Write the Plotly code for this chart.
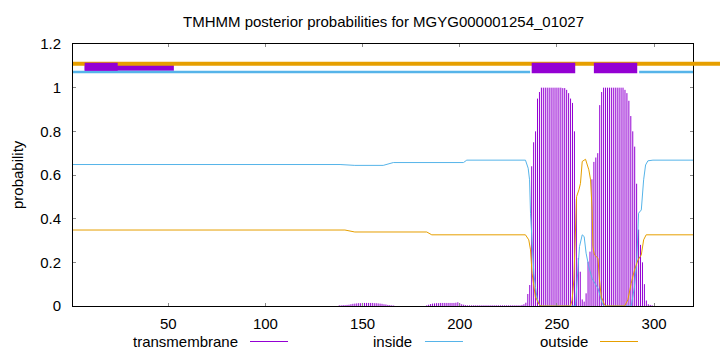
import plotly.graph_objects as go

# ---------------- data ----------------
title_text = "TMHMM posterior probabilities for MGYG000001254_01027"
y_label = "probability"
seq_range = [1, 320]
x_ticks = [50, 100, 150, 200, 250, 300]
y_ticks = [0, 0.2, 0.4, 0.6, 0.8, 1, 1.2]
legend_names = ["transmembrane", "inside", "outside"]

# posterior probability of "inside" (breakpoints along the sequence)
inside_x = [1, 138.4, 146, 160.6, 165.8, 201.9, 203.6, 233.8, 235.2, 235.9, 236.4, 237.2,
            238.1, 238.9, 239.8, 240.7, 241.6, 259.5, 260.4, 261.6, 263.0, 264.0, 265.0,
            266.4, 268.1, 271.1, 272.8, 273.6, 274.5, 288.2, 289.9, 291.1, 292.0, 293.4,
            294.6, 295.6, 296.8, 299.4, 320]
inside_y = [0.648, 0.648, 0.644, 0.644, 0.657, 0.657, 0.668, 0.668, 0.631, 0.578, 0.425, 0.272,
            0.150, 0.089, 0.035, 0.012, 0.0, 0.0, 0.119, 0.272, 0.326, 0.318, 0.242,
            0.180, 0.125, 0.081, 0.028, 0.005, 0.0, 0.0, 0.089, 0.211, 0.425, 0.440,
            0.578, 0.646, 0.665, 0.668, 0.668]

# posterior probability of "outside"
outside_x = [1, 140.9, 146, 183, 185.6, 233.8, 235.5, 236.4, 237.2, 238.1, 238.9, 240.7,
             241.6, 257.0, 257.8, 258.7, 259.5, 260.1, 261.3, 262.1, 263.0, 264.7, 266.4,
             267.3, 268.1, 268.5, 269.3, 271.1, 271.9, 272.8, 274.5, 275.3, 284.8, 286.5,
             288.2, 289.9, 291.7, 293.4, 294.6, 295.9, 320]
outside_y = [0.348, 0.348, 0.339, 0.339, 0.326, 0.326, 0.303, 0.257, 0.150, 0.089, 0.043, 0.009,
             0.0, 0.0, 0.028, 0.119, 0.394, 0.501, 0.532, 0.562, 0.662, 0.672, 0.624,
             0.578, 0.440, 0.272, 0.234, 0.219, 0.119, 0.043, 0.005, 0.0, 0.0, 0.028,
             0.104, 0.165, 0.211, 0.234, 0.303, 0.326, 0.326]

# posterior probability of "transmembrane" (per residue, drawn as impulses)
tm_residue = list(range(138, 167)) + list(range(183, 205)) + list(range(205, 231)) + list(range(231, 300))
tm_prob = [
    # 138-166
    0.003, 0.003, 0.004, 0.004, 0.005, 0.006, 0.008, 0.010, 0.011, 0.012, 0.013, 0.013, 0.014,
    0.014, 0.014, 0.014, 0.014, 0.014, 0.013, 0.013, 0.012, 0.011, 0.010, 0.008, 0.007, 0.005,
    0.004, 0.003, 0.002,
    # 183-204
    0.003, 0.006, 0.009, 0.011, 0.012, 0.013, 0.013, 0.014, 0.014, 0.014, 0.014, 0.014, 0.014,
    0.014, 0.014, 0.015, 0.017, 0.012, 0.008, 0.006, 0.004, 0.003,
    # 205-230
    0.003, 0.003, 0.003, 0.003, 0.003, 0.003, 0.003, 0.003, 0.003, 0.003, 0.003, 0.003, 0.003,
    0.003, 0.003, 0.003, 0.003, 0.003, 0.003, 0.003, 0.003, 0.003, 0.003, 0.003, 0.003, 0.003,
    # 231-299
    0.003, 0.005, 0.008, 0.015, 0.055, 0.096, 0.640, 0.750, 0.800, 0.950, 0.980, 1.000, 1.000,
    1.000, 1.000, 1.000, 1.000, 1.000, 1.000, 1.000, 1.000, 1.000, 0.998, 0.998, 0.990, 0.975,
    0.950, 0.930, 0.800, 0.490, 0.220, 0.157, 0.030, 0.020, 0.058, 0.203, 0.249, 0.580, 0.660,
    0.680, 0.700, 0.920, 0.980, 1.000, 1.000, 1.000, 1.000, 1.000, 1.000, 1.000, 1.000, 1.000,
    1.000, 1.000, 0.990, 0.975, 0.940, 0.870, 0.800, 0.730, 0.560, 0.350, 0.280, 0.200, 0.100,
    0.025, 0.008, 0.005, 0.003,
]

# predicted topology bars above the plot (residue ranges)
tm_helices = [(237, 259.4), (269, 291.3)]
inside_segments = [(1, 236.2), (292.3, 320)]
extra_box_long = (7, 52.9)
extra_box_short = (7, 24)
topo_levels = {"outside": 1.110, "inside": 1.072}

# ---------------- styling ----------------
C_TM = "#9400d3"
C_IN = "#56b4e9"
C_OUT = "#e69f00"
FONT = "Liberation Sans, Arial, sans-serif"

fig = go.Figure()

# impulses for transmembrane
ix, iy = [], []
for r, v in zip(tm_residue, tm_prob):
    ix += [r, r, None]
    iy += [0, v, None]
fig.add_trace(go.Scatter(x=ix, y=iy, mode="lines", line=dict(color=C_TM, width=1),
                         name=legend_names[0], showlegend=False, hoverinfo="skip"))
fig.add_trace(go.Scatter(x=inside_x, y=inside_y, mode="lines", line=dict(color=C_IN, width=1),
                         name=legend_names[1], showlegend=False))
fig.add_trace(go.Scatter(x=outside_x, y=outside_y, mode="lines", line=dict(color=C_OUT, width=1),
                         name=legend_names[2], showlegend=False))

shapes = []
shapes.append(dict(type="rect", xref="x", yref="y", x0=extra_box_long[0], x1=extra_box_long[1],
                   y0=1.077, y1=1.105, fillcolor=C_TM, line=dict(width=0), layer="above"))
for a, b in inside_segments:
    shapes.append(dict(type="line", xref="x", yref="y", x0=a, x1=b,
                       y0=topo_levels["inside"], y1=topo_levels["inside"],
                       line=dict(color=C_IN, width=2.5)))
shapes.append(dict(type="line", xref="paper", yref="y", x0=0, x1=1.06,
                   y0=topo_levels["outside"], y1=topo_levels["outside"],
                   line=dict(color=C_OUT, width=4)))
shapes.append(dict(type="rect", xref="x", yref="y", x0=extra_box_short[0], x1=extra_box_short[1],
                   y0=1.077, y1=1.114, fillcolor=C_TM, line=dict(width=0)))
for a, b in tm_helices:
    shapes.append(dict(type="rect", xref="x", yref="y", x0=a, x1=b, y0=1.066, y1=1.114,
                       fillcolor=C_TM, line=dict(width=0)))

# legend samples (text on the left, line on the right)
legend_items = [
    (legend_names[0], C_TM, 0.2694, 0.2855, 0.3468),
    (legend_names[1], C_IN, 0.5500, 0.5677, 0.6290),
    (legend_names[2], C_OUT, 0.8339, 0.8500, 0.9113),
]
annotations = []
ly_text = -0.1336
ly_line = -0.1355
for name, col, tx, l0, l1 in legend_items:
    annotations.append(dict(text=name, xref="paper", yref="paper", x=tx, y=ly_text,
                            xanchor="right", yanchor="middle", showarrow=False,
                            font=dict(family=FONT, size=15, color="#000")))
    shapes.append(dict(type="line", xref="paper", yref="paper", x0=l0, x1=l1, y0=ly_line, y1=ly_line,
                       line=dict(color=col, width=1)))

annotations.append(dict(text=title_text, xref="paper", yref="paper", x=0.5008, y=1.084,
                        xanchor="center", yanchor="middle", showarrow=False,
                        font=dict(family=FONT, size=15, color="#000")))
annotations.append(dict(text=y_label, xref="paper", yref="paper", x=-0.0903, y=0.5,
                        xanchor="center", yanchor="middle", textangle=-90, showarrow=False,
                        font=dict(family=FONT, size=15, color="#000")))

fig.update_layout(
    width=720, height=352,
    margin=dict(l=73, r=27, t=44, b=46, pad=0),
    paper_bgcolor="white", plot_bgcolor="white",
    font=dict(family=FONT, size=15, color="#000"),
    shapes=shapes, annotations=annotations,
    showlegend=False,
)
fig.update_xaxes(range=seq_range, tickvals=x_ticks, ticks="inside", ticklen=3,
                 tickcolor="#888", showgrid=False, zeroline=False, showline=True,
                 linecolor="#000", linewidth=1, mirror="ticks", ticklabelstandoff=4)
fig.update_yaxes(range=[0, 1.2], tickvals=y_ticks, ticks="inside", ticklen=3,
                 tickcolor="#888", showgrid=False, zeroline=False, showline=True,
                 linecolor="#000", linewidth=1, mirror="ticks", ticklabelstandoff=8)

fig.write_html("out.html")
